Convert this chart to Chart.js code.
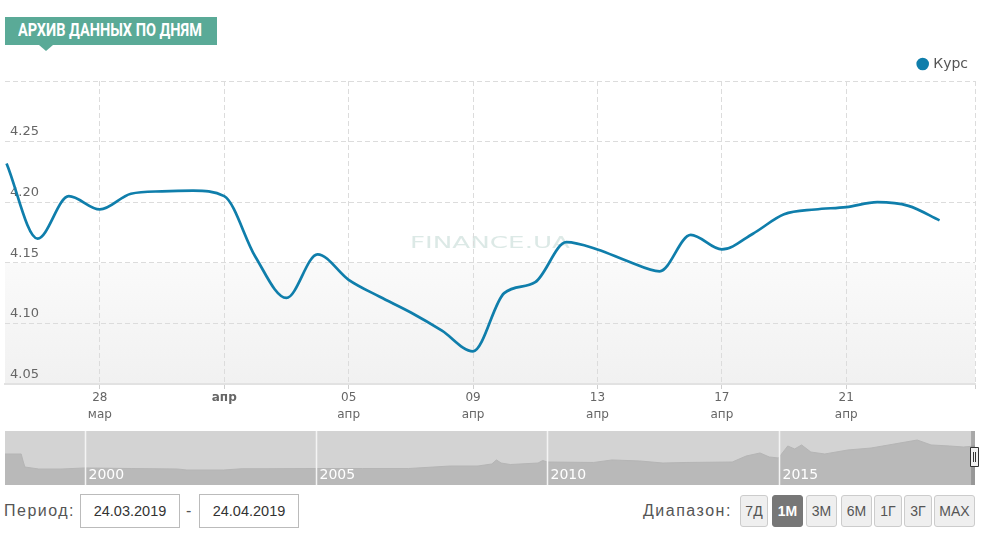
<!DOCTYPE html>
<html>
<head>
<meta charset="utf-8">
<script src="https://cdn.jsdelivr.net/npm/chart.js@4"></script>
<style>
  body { margin: 0; background: #fff; width: 985px; height: 542px; position: relative; overflow: hidden; font-family: "Liberation Sans", Arial, sans-serif; }
  #title { position: absolute; left: 5px; top: 17px; width: 212px; height: 28px; background: #5aaa97; }
  #title:after { content: ""; position: absolute; left: 34px; top: 28px; border-left: 7px solid transparent; border-right: 7px solid transparent; border-top: 6px solid #5aaa97; }
  #title span { position: absolute; left: 13px; top: 3px; font: 700 17.5px Roboto, sans-serif; color: #fff; white-space: nowrap; transform-origin: 0 0; }
  #main { position: absolute; left: 0; top: 45px; }
  #nav { position: absolute; left: 0; top: 428px; }
  .lbl { position: absolute; font-size: 16px; color: #555; letter-spacing: 1.5px; }
  .box { position: absolute; top: 494px; height: 34px; border: 1px solid #bbb; box-sizing: border-box; font-size: 14.5px; color: #333; line-height: 32px; text-align: center; }
  .btn { position: absolute; top: 495px; height: 32px; border: 1px solid #ccc; box-sizing: border-box; border-radius: 3px; background: #efefef; font-size: 14px; color: #555; line-height: 30px; text-align: center; }
  .btn.on { background: #777; border-color: #777; color: #fff; font-weight: bold; }
</style>
</head>
<body>
<div id="title"><span id="ttext">АРХИВ ДАННЫХ ПО ДНЯМ</span></div>
<canvas id="main" width="985" height="380"></canvas>
<canvas id="nav" width="985" height="60"></canvas>

<div class="lbl" style="left:4px;top:502px;">Период:</div>
<div class="box" style="left:80px;width:100px;">24.03.2019</div>
<div class="lbl" style="left:186px;top:502px;">-</div>
<div class="box" style="left:199px;width:100px;">24.04.2019</div>
<div class="lbl" style="left:643px;top:502px;">Диапазон:</div>
<div class="btn" style="left:740px;width:28px;">7Д</div>
<div class="btn on" style="left:772px;width:31px;">1М</div>
<div class="btn" style="left:806px;width:31px;">3М</div>
<div class="btn" style="left:841px;width:31px;">6М</div>
<div class="btn" style="left:874px;width:28px;">1Г</div>
<div class="btn" style="left:904px;width:28px;">3Г</div>
<div class="btn" style="left:934px;width:41px;">МАХ</div>

<script>
// daily rate, 25.03.2019 - 24.04.2019
const dates = ['2019-03-25', '2019-03-26', '2019-03-27', '2019-03-28', '2019-03-29', '2019-03-30', '2019-03-31',
  '2019-04-01', '2019-04-02', '2019-04-03', '2019-04-04', '2019-04-05', '2019-04-06', '2019-04-07', '2019-04-08',
  '2019-04-09', '2019-04-10', '2019-04-11', '2019-04-12', '2019-04-13', '2019-04-14', '2019-04-15', '2019-04-16',
  '2019-04-17', '2019-04-18', '2019-04-19', '2019-04-20', '2019-04-21', '2019-04-22', '2019-04-23', '2019-04-24'];
const rates = [4.232, 4.170, 4.205, 4.194, 4.207, 4.209, 4.2095,
  4.205, 4.155, 4.121, 4.157, 4.136, 4.122, 4.109, 4.094,
  4.077, 4.125, 4.134, 4.167, 4.161, 4.151, 4.143, 4.173,
  4.161, 4.174, 4.190, 4.194, 4.196, 4.200, 4.197, 4.185];

// x ticks (days from 28.03)
const xTickDays = [0, 4, 8, 12, 16, 20, 24];
const xTickLabels = [['28', 'мар'], 'апр', ['05', 'апр'], ['09', 'апр'], ['13', 'апр'], ['17', 'апр'], ['21', 'апр']];
const yTicks = [4.05, 4.10, 4.15, 4.20, 4.25, 4.30];
const yTickLabels = ['4.05', '4.10', '4.15', '4.20', '4.25', ''];

// navigator: whole history
const navYears = [1998.27, 1998.62, 1998.66, 1998.7, 1999.0, 1999.5, 2000, 2001, 2002, 2002.2, 2003, 2003.4, 2004, 2005, 2006, 2007,
  2007.9, 2008.5, 2008.8, 2008.9, 2009.0, 2009.2, 2009.8, 2009.9, 2010, 2011, 2011.4, 2012, 2012.5, 2013, 2014,
  2014.3, 2014.6, 2014.8, 2015, 2015.2, 2015.35, 2015.5, 2015.7, 2016, 2016.5, 2017, 2017.5, 2018, 2018.3, 2018.7, 2019, 2019.25];
const navValues = [3.33, 3.33, 2.58, 1.93, 1.72, 1.72, 1.83, 1.77, 1.72, 1.61, 1.61, 1.75, 1.75, 1.77, 1.77, 1.77,
  2.04, 2.04, 2.26, 2.69, 2.36, 2.2, 2.36, 2.63, 2.47, 2.42, 2.69, 2.58, 2.36, 2.42, 2.47,
  3.11, 3.44, 3.01, 2.9, 4.19, 3.87, 4.30, 3.54, 3.33, 3.76, 3.97, 4.40, 4.83, 4.30, 4.19, 4.08, 4.19];
const navYearLines = [2000, 2005, 2010, 2015];

const DAY = 86400000;
const base = Date.parse('2019-03-28');
const points = dates.map((d, i) => ({ x: (Date.parse(d) - base) / DAY, y: rates[i] }));

const tt = document.getElementById('ttext');
tt.style.transform = 'scaleX(' + (184 / tt.offsetWidth) + ')';

const lineColor = '#0f7eab';
const gridColor = '#dcdcdc';

const bandPlugin = {
  id: 'band',
  beforeDraw(chart) {
    const { ctx, chartArea: a, scales: { y } } = chart;
    const top = y.getPixelForValue(4.15), bottom = y.getPixelForValue(4.05);
    const g = ctx.createLinearGradient(0, top, 0, bottom);
    g.addColorStop(0, '#fafafa');
    g.addColorStop(1, '#f1f1f1');
    ctx.save();
    ctx.fillStyle = g;
    ctx.fillRect(a.left, top, a.right - a.left, bottom - top);
    // watermark
    ctx.font = '20px "DejaVu Sans"';
    ctx.fillStyle = 'rgba(185, 212, 206, 0.5)';
    ctx.textBaseline = 'middle';
    const txt = 'FINANCE.UA';
    const w = ctx.measureText(txt).width;
    ctx.translate(410, y.getPixelForValue(4.166));
    ctx.scale(160 / w, 0.8);
    ctx.fillText(txt, 0, 0);
    ctx.restore();
  }
};

new Chart(document.getElementById('main'), {
  type: 'line',
  data: {
    datasets: [{
      label: 'Курс',
      data: points,
      borderColor: lineColor,
      backgroundColor: lineColor,
      borderWidth: 2.7,
      pointRadius: 0,
      cubicInterpolationMode: 'monotone',
      fill: false
    }]
  },
  options: {
    responsive: false,
    animation: false,
    devicePixelRatio: 1,
    layout: { padding: { left: -5, right: 10, top: 5, bottom: 2 } },
    plugins: {
      legend: {
        position: 'top',
        align: 'end',
        labels: {
          usePointStyle: true, pointStyle: 'circle', boxWidth: 7, boxHeight: 7,
          color: '#555', font: { family: '"DejaVu Sans"', size: 14 }, padding: 7
        }
      },
      tooltip: { enabled: false }
    },
    scales: {
      x: {
        type: 'linear',
        min: -3.05,
        max: 28.14,
        afterBuildTicks: s => { s.ticks = xTickDays.concat([28.14]).map(v => ({ value: v })); },
        ticks: {
          autoSkip: false, maxRotation: 0, padding: 0, color: '#666',
          callback: (v, i) => xTickLabels[i] !== undefined ? xTickLabels[i] : '',
          font: c => ({ family: '"DejaVu Sans"', size: 12, lineHeight: '17px', weight: c.tick && c.tick.value === 4 ? 'bold' : 'normal' })
        },
        grid: { color: gridColor, tickColor: '#cfcfcf', tickLength: 5, tickBorderDash: [] },
        border: { display: true, color: '#e2e2e2', width: 2, dash: [5, 3] }
      },
      y: {
        min: 4.05,
        max: 4.30,
        afterBuildTicks: s => { s.ticks = yTicks.map(v => ({ value: v })); },
        ticks: {
          mirror: true, padding: 5, labelOffset: -9.5, color: '#666',
          font: { family: '"DejaVu Sans"', size: 13 },
          callback: (v, i) => yTickLabels[i]
        },
        grid: { color: gridColor, drawTicks: false },
        border: { display: false, dash: [5, 3] }
      }
    }
  },
  plugins: [bandPlugin]
});

const navPlugin = {
  id: 'navdeco',
  beforeDraw(chart) {
    const { ctx, chartArea: a } = chart;
    ctx.save();
    ctx.fillStyle = '#d3d3d3';
    ctx.fillRect(a.left, a.top, a.right - a.left, a.bottom - a.top);
    ctx.restore();
  },
  afterDraw(chart) {
    const { ctx, chartArea: a, scales: { x } } = chart;
    ctx.save();
    ctx.strokeStyle = '#f4f4f4';
    ctx.lineWidth = 1.5;
    ctx.fillStyle = '#fff';
    ctx.font = '14px "DejaVu Sans"';
    ctx.textBaseline = 'alphabetic';
    navYearLines.forEach(yr => {
      const px = Math.round(x.getPixelForValue(yr)) + 0.5;
      ctx.beginPath();
      ctx.moveTo(px, a.top);
      ctx.lineTo(px, a.bottom);
      ctx.stroke();
      ctx.fillText(String(yr), px + 3, a.bottom - 6);
    });
    // selected range (last month) and handle
    const sel = x.getPixelForValue(2019.165);
    ctx.fillStyle = 'rgba(90,90,90,0.35)';
    ctx.fillRect(sel, a.top, a.right - sel, a.bottom - a.top);
    ctx.fillStyle = '#f2f2f2';
    ctx.strokeStyle = '#333';
    ctx.lineWidth = 1;
    const hx = Math.round(sel) - 0.5;
    ctx.beginPath();
    ctx.rect(hx, a.top + 16.5, 8, 19);
    ctx.fill();
    ctx.stroke();
    ctx.beginPath();
    ctx.moveTo(hx + 3, a.top + 21); ctx.lineTo(hx + 3, a.top + 31);
    ctx.moveTo(hx + 5, a.top + 21); ctx.lineTo(hx + 5, a.top + 31);
    ctx.stroke();
    ctx.restore();
  }
};

new Chart(document.getElementById('nav'), {
  type: 'line',
  data: {
    datasets: [{
      data: navYears.map((yr, i) => ({ x: yr, y: navValues[i] })),
      borderColor: '#b5b5b5',
      borderWidth: 1,
      backgroundColor: '#b9b9b9',
      pointRadius: 0,
      tension: 0,
      fill: 'start'
    }]
  },
  options: {
    responsive: false,
    animation: false,
    devicePixelRatio: 1,
    layout: { padding: { left: 5, right: 10, top: 3, bottom: 3 } },
    plugins: { legend: { display: false }, tooltip: { enabled: false } },
    scales: {
      x: { type: 'linear', display: false, min: 1998.27, max: 2019.25 },
      y: { display: false, min: 0, max: 5.8 }
    }
  },
  plugins: [navPlugin]
});
</script>
</body>
</html>
